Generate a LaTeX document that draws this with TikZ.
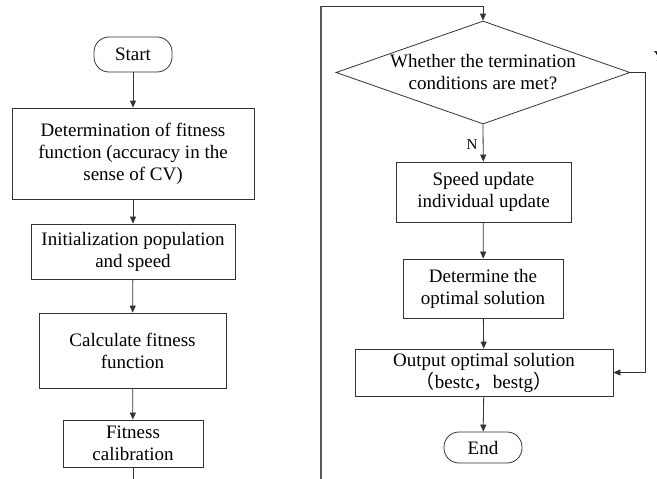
\documentclass[tikz,border=0pt]{standalone}
\usepackage{fontspec}
\setmainfont{Liberation Serif}
\newfontfamily\cjk{Noto Sans CJK SC}
\usetikzlibrary{arrows.meta,shapes.geometric}
\begin{document}
\begin{tikzpicture}[x=1pt,y=-1pt,
  every node/.style={font=\fontsize{19}{22}\selectfont},
  boxnode/.style={draw=black!80,line width=0.8pt,rectangle,align=center,inner sep=0pt},
  termnode/.style={draw=black!80,line width=0.8pt,rounded corners=15pt,align=center,inner sep=0pt},
  arr/.style={draw=black!80,line width=0.8pt,-{Triangle[length=7pt,width=6pt]}},
  ln/.style={draw=black!80,line width=0.8pt},
  lab/.style={font=\fontsize{15}{18}\selectfont}]
\useasboundingbox (0,0) rectangle (657,479);
% left column
\node[termnode,minimum width=78pt,minimum height=35pt] (start) at (133,54.5) {Start};
\node[boxnode,minimum width=242pt,minimum height=91pt] (b1) at (133,153.5) {Determination of fitness\\function (accuracy in the\\sense of CV)};
\node[boxnode,minimum width=204pt,minimum height=55pt] (b2) at (133,251.5) {Initialization population\\and speed};
\node[boxnode,minimum width=187pt,minimum height=75pt] (b3) at (132.5,350.5) {Calculate fitness\\function};
\node[boxnode,minimum width=140pt,minimum height=47pt] (b4) at (133,443.5) {Fitness\\calibration};
\coordinate (lb) at (133,479);
\coordinate (rb) at (321,479);
\coordinate (rt) at (321,6);
\draw[arr] (start) -- (b1);
\draw[arr] (b1) -- (b2);
\draw[arr] (b2) -- (b3);
\draw[arr] (b3) -- (b4);
\draw[ln] (b4) -- (lb);
% right column
\node[diamond,draw=black!80,line width=0.8pt,minimum width=294pt,minimum height=103pt,inner sep=0pt,aspect=2.85,align=center] (dia) at (483,72.5) {Whether the termination\\conditions are met?};
\node[boxnode,minimum width=175pt,minimum height=60pt] (s1) at (483.5,192) {Speed update\\individual update};
\node[boxnode,minimum width=160pt,minimum height=59pt] (s2) at (483,288.5) {Determine the\\optimal solution};
\node[boxnode,minimum width=258pt,minimum height=47pt] (s3) at (484,372.5) {Output optimal solution\\{\cjk （}bestc{\cjk ，}bestg{\cjk ）}};
\node[termnode,minimum width=78pt,minimum height=31pt] (end) at (483,447.5) {End};
\coordinate (yr) at (645,72.5);
\draw[ln,draw=black!65,line width=1.2pt] (rb) -- (rt);
\draw[arr] (rt) -| (dia.north);
\draw[arr] (dia.south) -- node[lab,left,pos=0.55,xshift=-2pt] {N} (s1);
\draw[arr] (s1) -- (s2);
\draw[arr] (s2) -- (s3);
\draw[arr] (s3) -- (end);
\draw[arr] (dia.east) -- (yr) |- (s3.east);
\node[lab] (ylab) at (659,57) {Y};
\end{tikzpicture}
\end{document}
